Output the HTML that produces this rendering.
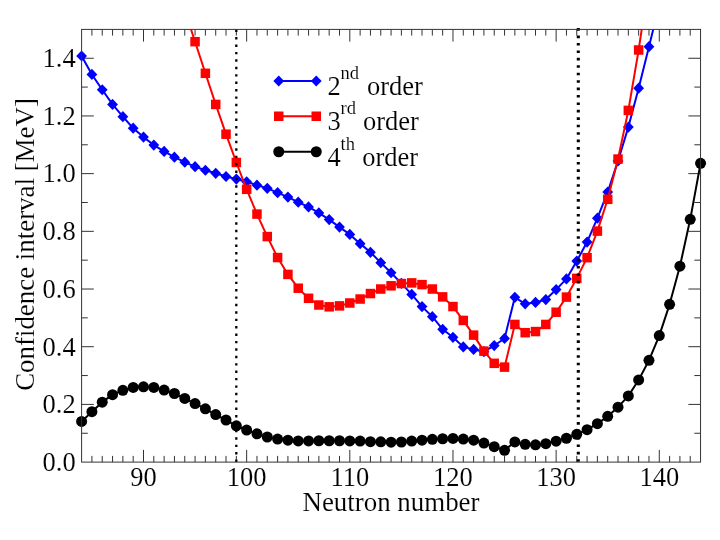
<!DOCTYPE html>
<html><head><meta charset="utf-8"><title>Confidence interval</title>
<style>html,body{margin:0;padding:0;background:#fff;}body{width:720px;height:540px;overflow:hidden;}svg{display:block;}text{font-family:"Liberation Serif",serif;fill:#000;stroke:#fff;stroke-width:0.12px;}</style>
</head><body>
<svg width="720" height="540" viewBox="0 0 720 540">
<g filter="url(#f)">
<rect x="0" y="0" width="720" height="540" fill="#fff"/>
<defs><filter id="f" x="0" y="0" width="720" height="540" filterUnits="userSpaceOnUse" color-interpolation-filters="sRGB"><feOffset dx="0" dy="0"/></filter><clipPath id="c"><rect x="81.60" y="29.40" width="618.95" height="432.70"/></clipPath></defs>
<path d="M91.92 29.40v6.20M91.92 462.10v-6.20M102.23 29.40v6.20M102.23 462.10v-6.20M112.55 29.40v6.20M112.55 462.10v-6.20M122.86 29.40v6.20M122.86 462.10v-6.20M133.18 29.40v6.20M133.18 462.10v-6.20M143.50 29.40v12.20M143.50 462.10v-12.20M153.81 29.40v6.20M153.81 462.10v-6.20M164.13 29.40v6.20M164.13 462.10v-6.20M174.44 29.40v6.20M174.44 462.10v-6.20M184.76 29.40v6.20M184.76 462.10v-6.20M195.07 29.40v6.20M195.07 462.10v-6.20M205.39 29.40v6.20M205.39 462.10v-6.20M215.71 29.40v6.20M215.71 462.10v-6.20M226.02 29.40v6.20M226.02 462.10v-6.20M236.34 29.40v6.20M236.34 462.10v-6.20M246.65 29.40v12.20M246.65 462.10v-12.20M256.97 29.40v6.20M256.97 462.10v-6.20M267.28 29.40v6.20M267.28 462.10v-6.20M277.60 29.40v6.20M277.60 462.10v-6.20M287.92 29.40v6.20M287.92 462.10v-6.20M298.23 29.40v6.20M298.23 462.10v-6.20M308.55 29.40v6.20M308.55 462.10v-6.20M318.86 29.40v6.20M318.86 462.10v-6.20M329.18 29.40v6.20M329.18 462.10v-6.20M339.50 29.40v6.20M339.50 462.10v-6.20M349.81 29.40v12.20M349.81 462.10v-12.20M360.13 29.40v6.20M360.13 462.10v-6.20M370.44 29.40v6.20M370.44 462.10v-6.20M380.76 29.40v6.20M380.76 462.10v-6.20M391.07 29.40v6.20M391.07 462.10v-6.20M401.39 29.40v6.20M401.39 462.10v-6.20M411.71 29.40v6.20M411.71 462.10v-6.20M422.02 29.40v6.20M422.02 462.10v-6.20M432.34 29.40v6.20M432.34 462.10v-6.20M442.65 29.40v6.20M442.65 462.10v-6.20M452.97 29.40v12.20M452.97 462.10v-12.20M463.29 29.40v6.20M463.29 462.10v-6.20M473.60 29.40v6.20M473.60 462.10v-6.20M483.92 29.40v6.20M483.92 462.10v-6.20M494.23 29.40v6.20M494.23 462.10v-6.20M504.55 29.40v6.20M504.55 462.10v-6.20M514.87 29.40v6.20M514.87 462.10v-6.20M525.18 29.40v6.20M525.18 462.10v-6.20M535.50 29.40v6.20M535.50 462.10v-6.20M545.81 29.40v6.20M545.81 462.10v-6.20M556.13 29.40v12.20M556.13 462.10v-12.20M566.44 29.40v6.20M566.44 462.10v-6.20M576.76 29.40v6.20M576.76 462.10v-6.20M587.08 29.40v6.20M587.08 462.10v-6.20M597.39 29.40v6.20M597.39 462.10v-6.20M607.71 29.40v6.20M607.71 462.10v-6.20M618.02 29.40v6.20M618.02 462.10v-6.20M628.34 29.40v6.20M628.34 462.10v-6.20M638.65 29.40v6.20M638.65 462.10v-6.20M648.97 29.40v6.20M648.97 462.10v-6.20M659.29 29.40v12.20M659.29 462.10v-12.20M669.60 29.40v6.20M669.60 462.10v-6.20M679.92 29.40v6.20M679.92 462.10v-6.20M690.23 29.40v6.20M690.23 462.10v-6.20M81.60 433.25h6.20M700.55 433.25h-6.20M81.60 404.41h12.20M700.55 404.41h-12.20M81.60 375.56h6.20M700.55 375.56h-6.20M81.60 346.71h12.20M700.55 346.71h-12.20M81.60 317.87h6.20M700.55 317.87h-6.20M81.60 289.02h12.20M700.55 289.02h-12.20M81.60 260.17h6.20M700.55 260.17h-6.20M81.60 231.33h12.20M700.55 231.33h-12.20M81.60 202.48h6.20M700.55 202.48h-6.20M81.60 173.63h12.20M700.55 173.63h-12.20M81.60 144.79h6.20M700.55 144.79h-6.20M81.60 115.94h12.20M700.55 115.94h-12.20M81.60 87.09h6.20M700.55 87.09h-6.20M81.60 58.25h12.20M700.55 58.25h-12.20" stroke="#333" stroke-width="1" fill="none"/>
<g clip-path="url(#c)">
<polyline points="81.60,56.01 91.92,74.46 102.23,89.73 112.55,104.43 122.86,116.68 133.18,128.21 143.50,137.11 153.81,145.07 164.13,151.41 174.44,157.17 184.76,162.22 195.07,166.68 205.39,170.23 215.71,173.31 226.02,176.48 236.34,179.08 246.65,181.78 256.97,185.13 267.28,188.30 277.60,192.68 287.92,197.09 298.23,202.22 308.55,206.89 318.86,212.94 329.18,219.57 339.50,227.09 349.81,234.41 360.13,243.63 370.44,252.28 380.76,262.65 391.07,272.74 401.39,283.40 411.71,294.44 422.02,306.60 432.34,316.66 442.65,329.31 452.97,337.30 463.29,346.89 473.60,349.40 483.92,351.71 494.23,345.54 504.55,338.45 514.87,297.32 525.18,303.78 535.50,302.43 545.81,299.54 556.13,289.57 566.44,278.88 576.76,261.10 587.08,242.05 597.39,218.18 607.71,192.10 618.02,160.92 628.34,127.11 638.65,88.21 648.97,46.68 659.29,4.71" fill="none" stroke="#0000ff" stroke-width="2.00" stroke-linejoin="round"/>
</g>
<g fill="#0000ff"><path d="M76.20 56.01L81.60 50.41L87.00 56.01L81.60 61.61Z"/><path d="M86.52 74.46L91.92 68.86L97.32 74.46L91.92 80.06Z"/><path d="M96.83 89.73L102.23 84.13L107.63 89.73L102.23 95.33Z"/><path d="M107.15 104.43L112.55 98.83L117.95 104.43L112.55 110.03Z"/><path d="M117.46 116.68L122.86 111.08L128.26 116.68L122.86 122.28Z"/><path d="M127.78 128.21L133.18 122.61L138.58 128.21L133.18 133.81Z"/><path d="M138.09 137.11L143.50 131.51L148.90 137.11L143.50 142.71Z"/><path d="M148.41 145.07L153.81 139.47L159.21 145.07L153.81 150.67Z"/><path d="M158.73 151.41L164.13 145.81L169.53 151.41L164.13 157.01Z"/><path d="M169.04 157.17L174.44 151.57L179.84 157.17L174.44 162.77Z"/><path d="M179.36 162.22L184.76 156.62L190.16 162.22L184.76 167.82Z"/><path d="M189.67 166.68L195.07 161.08L200.47 166.68L195.07 172.28Z"/><path d="M199.99 170.23L205.39 164.63L210.79 170.23L205.39 175.83Z"/><path d="M210.31 173.31L215.71 167.71L221.11 173.31L215.71 178.91Z"/><path d="M220.62 176.48L226.02 170.88L231.42 176.48L226.02 182.08Z"/><path d="M230.94 179.08L236.34 173.48L241.74 179.08L236.34 184.68Z"/><path d="M241.25 181.78L246.65 176.18L252.05 181.78L246.65 187.38Z"/><path d="M251.57 185.13L256.97 179.53L262.37 185.13L256.97 190.73Z"/><path d="M261.88 188.30L267.28 182.70L272.68 188.30L267.28 193.90Z"/><path d="M272.20 192.68L277.60 187.08L283.00 192.68L277.60 198.28Z"/><path d="M282.52 197.09L287.92 191.49L293.32 197.09L287.92 202.69Z"/><path d="M292.83 202.22L298.23 196.62L303.63 202.22L298.23 207.82Z"/><path d="M303.15 206.89L308.55 201.29L313.95 206.89L308.55 212.49Z"/><path d="M313.46 212.94L318.86 207.34L324.26 212.94L318.86 218.54Z"/><path d="M323.78 219.57L329.18 213.97L334.58 219.57L329.18 225.17Z"/><path d="M334.10 227.09L339.50 221.49L344.90 227.09L339.50 232.69Z"/><path d="M344.41 234.41L349.81 228.81L355.21 234.41L349.81 240.01Z"/><path d="M354.73 243.63L360.13 238.03L365.53 243.63L360.13 249.23Z"/><path d="M365.04 252.28L370.44 246.68L375.84 252.28L370.44 257.88Z"/><path d="M375.36 262.65L380.76 257.05L386.16 262.65L380.76 268.25Z"/><path d="M385.67 272.74L391.07 267.14L396.47 272.74L391.07 278.34Z"/><path d="M395.99 283.40L401.39 277.80L406.79 283.40L401.39 289.00Z"/><path d="M406.31 294.44L411.71 288.84L417.11 294.44L411.71 300.04Z"/><path d="M416.62 306.60L422.02 301.00L427.42 306.60L422.02 312.20Z"/><path d="M426.94 316.66L432.34 311.06L437.74 316.66L432.34 322.26Z"/><path d="M437.25 329.31L442.65 323.71L448.05 329.31L442.65 334.91Z"/><path d="M447.57 337.30L452.97 331.70L458.37 337.30L452.97 342.90Z"/><path d="M457.89 346.89L463.29 341.29L468.69 346.89L463.29 352.49Z"/><path d="M468.20 349.40L473.60 343.80L479.00 349.40L473.60 355.00Z"/><path d="M478.52 351.71L483.92 346.11L489.32 351.71L483.92 357.31Z"/><path d="M488.83 345.54L494.23 339.94L499.63 345.54L494.23 351.14Z"/><path d="M499.15 338.45L504.55 332.85L509.95 338.45L504.55 344.05Z"/><path d="M509.47 297.32L514.87 291.72L520.26 297.32L514.87 302.92Z"/><path d="M519.78 303.78L525.18 298.18L530.58 303.78L525.18 309.38Z"/><path d="M530.10 302.43L535.50 296.83L540.90 302.43L535.50 308.03Z"/><path d="M540.41 299.54L545.81 293.94L551.21 299.54L545.81 305.14Z"/><path d="M550.73 289.57L556.13 283.97L561.53 289.57L556.13 295.17Z"/><path d="M561.04 278.88L566.44 273.28L571.84 278.88L566.44 284.48Z"/><path d="M571.36 261.10L576.76 255.50L582.16 261.10L576.76 266.70Z"/><path d="M581.68 242.05L587.08 236.45L592.48 242.05L587.08 247.65Z"/><path d="M591.99 218.18L597.39 212.58L602.79 218.18L597.39 223.78Z"/><path d="M602.31 192.10L607.71 186.50L613.11 192.10L607.71 197.70Z"/><path d="M612.62 160.92L618.02 155.32L623.42 160.92L618.02 166.52Z"/><path d="M622.94 127.11L628.34 121.51L633.74 127.11L628.34 132.71Z"/><path d="M633.25 88.21L638.65 82.61L644.05 88.21L638.65 93.81Z"/><path d="M643.57 46.68L648.97 41.08L654.37 46.68L648.97 52.28Z"/></g>
<g clip-path="url(#c)">
<polyline points="184.76,10.48 195.07,41.69 205.39,73.31 215.71,104.43 226.02,134.20 236.34,162.48 246.65,189.31 256.97,214.09 267.28,236.57 277.60,257.55 287.92,274.41 298.23,288.22 308.55,298.30 318.86,305.02 329.18,306.81 339.50,305.88 349.81,303.00 360.13,299.02 370.44,293.55 380.76,289.02 391.07,285.80 401.39,283.55 411.71,282.91 422.02,284.61 432.34,289.02 442.65,296.89 452.97,306.55 463.29,320.41 473.60,335.11 483.92,351.13 494.23,363.32 504.55,367.13 514.87,324.44 525.18,332.69 535.50,331.56 545.81,324.44 556.13,312.22 566.44,297.09 576.76,278.36 587.08,257.67 597.39,231.12 607.71,199.31 618.02,159.05 628.34,110.40 638.65,49.99 648.97,-19.49" fill="none" stroke="#ff0000" stroke-width="2.00" stroke-linejoin="round"/>
</g>
<g fill="#ff0000"><rect x="190.32" y="36.94" width="9.50" height="9.50"/><rect x="200.64" y="68.56" width="9.50" height="9.50"/><rect x="210.96" y="99.68" width="9.50" height="9.50"/><rect x="221.27" y="129.45" width="9.50" height="9.50"/><rect x="231.59" y="157.73" width="9.50" height="9.50"/><rect x="241.90" y="184.56" width="9.50" height="9.50"/><rect x="252.22" y="209.34" width="9.50" height="9.50"/><rect x="262.53" y="231.82" width="9.50" height="9.50"/><rect x="272.85" y="252.80" width="9.50" height="9.50"/><rect x="283.17" y="269.66" width="9.50" height="9.50"/><rect x="293.48" y="283.47" width="9.50" height="9.50"/><rect x="303.80" y="293.55" width="9.50" height="9.50"/><rect x="314.11" y="300.27" width="9.50" height="9.50"/><rect x="324.43" y="302.06" width="9.50" height="9.50"/><rect x="334.75" y="301.13" width="9.50" height="9.50"/><rect x="345.06" y="298.25" width="9.50" height="9.50"/><rect x="355.38" y="294.27" width="9.50" height="9.50"/><rect x="365.69" y="288.80" width="9.50" height="9.50"/><rect x="376.01" y="284.27" width="9.50" height="9.50"/><rect x="386.32" y="281.05" width="9.50" height="9.50"/><rect x="396.64" y="278.80" width="9.50" height="9.50"/><rect x="406.96" y="278.16" width="9.50" height="9.50"/><rect x="417.27" y="279.86" width="9.50" height="9.50"/><rect x="427.59" y="284.27" width="9.50" height="9.50"/><rect x="437.90" y="292.14" width="9.50" height="9.50"/><rect x="448.22" y="301.80" width="9.50" height="9.50"/><rect x="458.54" y="315.66" width="9.50" height="9.50"/><rect x="468.85" y="330.36" width="9.50" height="9.50"/><rect x="479.17" y="346.38" width="9.50" height="9.50"/><rect x="489.48" y="358.57" width="9.50" height="9.50"/><rect x="499.80" y="362.38" width="9.50" height="9.50"/><rect x="510.12" y="319.69" width="9.50" height="9.50"/><rect x="520.43" y="327.94" width="9.50" height="9.50"/><rect x="530.75" y="326.81" width="9.50" height="9.50"/><rect x="541.06" y="319.69" width="9.50" height="9.50"/><rect x="551.38" y="307.47" width="9.50" height="9.50"/><rect x="561.69" y="292.34" width="9.50" height="9.50"/><rect x="572.01" y="273.61" width="9.50" height="9.50"/><rect x="582.33" y="252.92" width="9.50" height="9.50"/><rect x="592.64" y="226.37" width="9.50" height="9.50"/><rect x="602.96" y="194.56" width="9.50" height="9.50"/><rect x="613.27" y="154.30" width="9.50" height="9.50"/><rect x="623.59" y="105.65" width="9.50" height="9.50"/><rect x="633.90" y="45.24" width="9.50" height="9.50"/></g>
<g clip-path="url(#c)">
<polyline points="81.60,421.45 91.92,411.65 102.23,402.14 112.55,394.65 122.86,390.33 133.18,387.44 143.50,386.87 153.81,387.44 164.13,390.04 174.44,393.50 184.76,398.40 195.07,403.58 205.39,408.77 215.71,414.54 226.02,420.01 236.34,425.78 246.65,430.10 256.97,433.84 267.28,437.01 277.60,439.03 287.92,440.19 298.23,440.91 308.55,440.91 318.86,440.76 329.18,440.76 339.50,440.76 349.81,440.91 360.13,441.05 370.44,441.63 380.76,441.77 391.07,442.20 401.39,442.00 411.71,441.05 422.02,440.19 432.34,439.32 442.65,438.74 452.97,438.46 463.29,439.03 473.60,440.19 483.92,443.07 494.23,446.67 504.55,450.27 514.87,441.91 525.18,444.36 535.50,444.80 545.81,443.73 556.13,441.14 566.44,438.25 576.76,434.36 587.08,429.69 597.39,423.70 607.71,416.35 618.02,407.13 628.34,395.89 638.65,379.95 648.97,360.35 659.29,335.57 669.60,304.33 679.92,266.23 690.23,219.31 700.55,163.31" fill="none" stroke="#000000" stroke-width="2.00" stroke-linejoin="round"/>
</g>
<g fill="#000000"><circle cx="81.60" cy="421.45" r="5.50"/><circle cx="91.92" cy="411.65" r="5.50"/><circle cx="102.23" cy="402.14" r="5.50"/><circle cx="112.55" cy="394.65" r="5.50"/><circle cx="122.86" cy="390.33" r="5.50"/><circle cx="133.18" cy="387.44" r="5.50"/><circle cx="143.50" cy="386.87" r="5.50"/><circle cx="153.81" cy="387.44" r="5.50"/><circle cx="164.13" cy="390.04" r="5.50"/><circle cx="174.44" cy="393.50" r="5.50"/><circle cx="184.76" cy="398.40" r="5.50"/><circle cx="195.07" cy="403.58" r="5.50"/><circle cx="205.39" cy="408.77" r="5.50"/><circle cx="215.71" cy="414.54" r="5.50"/><circle cx="226.02" cy="420.01" r="5.50"/><circle cx="236.34" cy="425.78" r="5.50"/><circle cx="246.65" cy="430.10" r="5.50"/><circle cx="256.97" cy="433.84" r="5.50"/><circle cx="267.28" cy="437.01" r="5.50"/><circle cx="277.60" cy="439.03" r="5.50"/><circle cx="287.92" cy="440.19" r="5.50"/><circle cx="298.23" cy="440.91" r="5.50"/><circle cx="308.55" cy="440.91" r="5.50"/><circle cx="318.86" cy="440.76" r="5.50"/><circle cx="329.18" cy="440.76" r="5.50"/><circle cx="339.50" cy="440.76" r="5.50"/><circle cx="349.81" cy="440.91" r="5.50"/><circle cx="360.13" cy="441.05" r="5.50"/><circle cx="370.44" cy="441.63" r="5.50"/><circle cx="380.76" cy="441.77" r="5.50"/><circle cx="391.07" cy="442.20" r="5.50"/><circle cx="401.39" cy="442.00" r="5.50"/><circle cx="411.71" cy="441.05" r="5.50"/><circle cx="422.02" cy="440.19" r="5.50"/><circle cx="432.34" cy="439.32" r="5.50"/><circle cx="442.65" cy="438.74" r="5.50"/><circle cx="452.97" cy="438.46" r="5.50"/><circle cx="463.29" cy="439.03" r="5.50"/><circle cx="473.60" cy="440.19" r="5.50"/><circle cx="483.92" cy="443.07" r="5.50"/><circle cx="494.23" cy="446.67" r="5.50"/><circle cx="504.55" cy="450.27" r="5.50"/><circle cx="514.87" cy="441.91" r="5.50"/><circle cx="525.18" cy="444.36" r="5.50"/><circle cx="535.50" cy="444.80" r="5.50"/><circle cx="545.81" cy="443.73" r="5.50"/><circle cx="556.13" cy="441.14" r="5.50"/><circle cx="566.44" cy="438.25" r="5.50"/><circle cx="576.76" cy="434.36" r="5.50"/><circle cx="587.08" cy="429.69" r="5.50"/><circle cx="597.39" cy="423.70" r="5.50"/><circle cx="607.71" cy="416.35" r="5.50"/><circle cx="618.02" cy="407.13" r="5.50"/><circle cx="628.34" cy="395.89" r="5.50"/><circle cx="638.65" cy="379.95" r="5.50"/><circle cx="648.97" cy="360.35" r="5.50"/><circle cx="659.29" cy="335.57" r="5.50"/><circle cx="669.60" cy="304.33" r="5.50"/><circle cx="679.92" cy="266.23" r="5.50"/><circle cx="690.23" cy="219.31" r="5.50"/><circle cx="700.55" cy="163.31" r="5.50"/></g>
<line x1="236.30" y1="29.70" x2="236.30" y2="462.50" stroke="#000" stroke-width="2.3" stroke-dasharray="2.4 5.01"/>
<line x1="578.30" y1="28.10" x2="578.30" y2="462.50" stroke="#000" stroke-width="3.1" stroke-dasharray="2.6 4.834"/>
<rect x="81.60" y="29.40" width="618.95" height="432.70" fill="none" stroke="#333" stroke-width="1"/>
<line x1="278.75" y1="81.00" x2="316.25" y2="81.00" stroke="#0000ff" stroke-width="2"/>
<g fill="#0000ff"><path d="M273.35 81.00L278.75 75.40L284.15 81.00L278.75 86.60Z"/><path d="M310.85 81.00L316.25 75.40L321.65 81.00L316.25 86.60Z"/></g>
<text x="327.6" y="95.00" font-size="26.5">2</text>
<text x="340.6" y="79.00" font-size="18.5">nd</text>
<text x="366.90" y="95.00" font-size="26.5">order</text>
<line x1="278.75" y1="116.25" x2="316.25" y2="116.25" stroke="#ff0000" stroke-width="2"/>
<g fill="#ff0000"><rect x="274.00" y="111.50" width="9.50" height="9.50"/><rect x="311.50" y="111.50" width="9.50" height="9.50"/></g>
<text x="327.6" y="130.40" font-size="26.5">3</text>
<text x="340.6" y="114.40" font-size="18.5">rd</text>
<text x="363.00" y="130.40" font-size="26.5">order</text>
<line x1="278.75" y1="151.75" x2="316.25" y2="151.75" stroke="#000" stroke-width="2"/>
<g fill="#000"><circle cx="278.75" cy="151.75" r="5.50"/><circle cx="316.25" cy="151.75" r="5.50"/></g>
<text x="327.6" y="166.00" font-size="26.5">4</text>
<text x="340.6" y="150.00" font-size="18.5">th</text>
<text x="362.20" y="166.00" font-size="26.5">order</text>
<text x="75.7" y="470.90" font-size="26.5" text-anchor="end">0.0</text>
<text x="75.7" y="413.21" font-size="26.5" text-anchor="end">0.2</text>
<text x="75.7" y="355.51" font-size="26.5" text-anchor="end">0.4</text>
<text x="75.7" y="297.82" font-size="26.5" text-anchor="end">0.6</text>
<text x="75.7" y="240.13" font-size="26.5" text-anchor="end">0.8</text>
<text x="75.7" y="182.43" font-size="26.5" text-anchor="end">1.0</text>
<text x="75.7" y="124.74" font-size="26.5" text-anchor="end">1.2</text>
<text x="75.7" y="67.05" font-size="26.5" text-anchor="end">1.4</text>
<text x="143.50" y="485.7" font-size="26.5" text-anchor="middle">90</text>
<text x="246.65" y="485.7" font-size="26.5" text-anchor="middle">100</text>
<text x="349.81" y="485.7" font-size="26.5" text-anchor="middle">110</text>
<text x="452.97" y="485.7" font-size="26.5" text-anchor="middle">120</text>
<text x="556.13" y="485.7" font-size="26.5" text-anchor="middle">130</text>
<text x="659.29" y="485.7" font-size="26.5" text-anchor="middle">140</text>
<text x="391" y="511.2" font-size="26.9" text-anchor="middle">Neutron number</text>
<text transform="translate(34.2 244.5) rotate(-90)" font-size="26.9" text-anchor="middle">Confidence interval [MeV]</text>
</g>
</svg></body></html>
